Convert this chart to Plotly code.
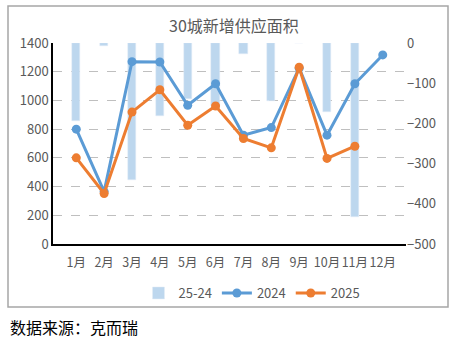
import plotly.graph_objects as go

months = ["1月", "2月", "3月", "4月", "5月", "6月", "7月", "8月", "9月", "10月", "11月", "12月"]
diff_25_24 = [-194, -8, -341, -182, -139, -157, -27, -144, 0, -172, -432, None]
y2024 = [800, 365, 1270, 1268, 966, 1116, 758, 811, 1225, 758, 1116, 1317]
y2025 = [600, 352, 919, 1074, 827, 961, 735, 670, 1231, 596, 681, None]

W, H = 457, 341
L, R, T, B = 53, 51, 43, 97
pw, ph = W - L - R, H - T - B

def px(x):
    return (x - L) / pw

def py(y):
    return (H - B - y) / ph

gray = "#595959"
font_cn = "Noto Sans CJK SC"

fig = go.Figure()
fig.add_trace(go.Bar(x=months, y=diff_25_24, name="25-24", marker_color="#BDD7EE",
                     width=0.3, yaxis="y"))
fig.add_trace(go.Scatter(x=months, y=y2024, name="2024", mode="lines+markers",
                         line=dict(color="#5B9BD5", width=3), marker=dict(size=9, color="#5B9BD5"),
                         yaxis="y2"))
fig.add_trace(go.Scatter(x=months, y=y2025, name="2025", mode="lines+markers",
                         line=dict(color="#ED7D31", width=3), marker=dict(size=9, color="#ED7D31"),
                         yaxis="y2"))

fig.update_layout(
    width=W, height=H,
    margin=dict(l=L, r=R, t=T, b=B),
    paper_bgcolor="white", plot_bgcolor="white",
    font=dict(family=font_cn, color=gray, size=13),
    title=dict(text="30城新增供应面积", x=px(234), xanchor="center", xref="paper",
               y=1 - 26 / H, yanchor="middle", font=dict(size=16, color=gray)),
    bargap=0,
    xaxis=dict(type="category", showgrid=False, showline=True, linecolor="black", linewidth=1.5,
               ticks="", tickangle=0, ticklabelstandoff=6, tickfont=dict(size=12.5, color=gray)),
    yaxis=dict(range=[-500, 0], dtick=100, side="right", showgrid=False, zeroline=False,
               showline=False, tickfont=dict(size=13, color=gray), ticks=""),
    yaxis2=dict(range=[0, 1400], dtick=200, side="left", overlaying="y", showgrid=True,
                gridcolor="#BFBFBF", griddash="dash", gridwidth=1, zeroline=False,
                showline=True, linecolor="black", linewidth=1.5,
                tickfont=dict(size=13, color=gray), ticks=""),
    legend=dict(orientation="h", x=px(252), xanchor="center", y=py(293), yanchor="middle",
                font=dict(size=13, color=gray), traceorder="normal", itemwidth=30,
                bgcolor="rgba(0,0,0,0)"),
    showlegend=True,
)

fig.add_shape(type="rect", xref="paper", yref="paper",
              x0=px(8), x1=px(448), y0=py(307), y1=py(6),
              line=dict(color="#A6A6A6", width=1.5), fillcolor="rgba(0,0,0,0)", layer="below")

fig.add_annotation(text="数据来源：克而瑞", xref="paper", yref="paper",
                   x=px(8), y=py(327), xanchor="left", yanchor="middle", showarrow=False,
                   font=dict(family=font_cn, size=16, color="black"))

fig.write_html("out.html")
